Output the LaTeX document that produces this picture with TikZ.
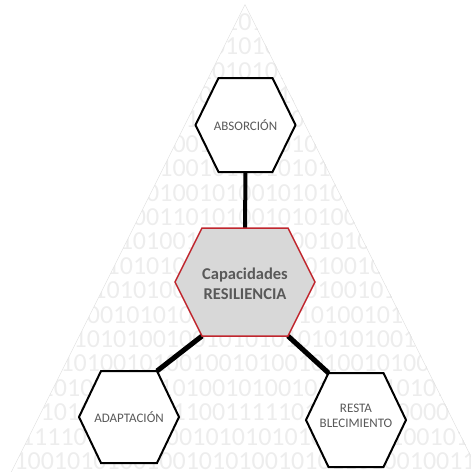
\documentclass[tikz,border=0pt]{standalone}
\usepackage{fontspec}
\setmainfont{Carlito}

\definecolor{hexred}{RGB}{192,38,46}
\definecolor{hexgray}{RGB}{216,216,216}
\definecolor{labelgray}{RGB}{89,89,89}
\definecolor{digitgray}{RGB}{237,237,237}
\definecolor{edgegray}{RGB}{224,224,224}

% named corner points of a flat-topped hexagon:
% #1 name, #2 centre, #3 half width, #4 half top edge, #5 half height
\newcommand\hexpoints[5]{%
  \begin{scope}[shift={#2}]
    \coordinate (#1) at (0,0);
    \coordinate (#1-w) at (-#3,0);
    \coordinate (#1-e) at (#3,0);
    \coordinate (#1-nw) at (-#4,-#5);
    \coordinate (#1-ne) at (#4,-#5);
    \coordinate (#1-sw) at (-#4,#5);
    \coordinate (#1-se) at (#4,#5);
    \coordinate (#1-n) at (0,-#5);
    \coordinate (#1-s) at (0,#5);
  \end{scope}}
\newcommand\hexoutline[2]{%
  \draw[#2] (#1-w) -- (#1-nw) -- (#1-ne) -- (#1-e) -- (#1-se) -- (#1-sw) -- cycle;}

\begin{document}
\begin{tikzpicture}[x=1pt,y=-1pt,
  hexline/.style={draw=black,line width=2pt,fill=white},
  corehex/.style={draw=hexred,line width=1.5pt,fill=hexgray},
  link/.style={draw=black,line width=4.5pt},
  lbl/.style={text=labelgray,font=\fontsize{13}{14.5}\selectfont,align=center,inner sep=0pt},
  corelbl/.style={text=labelgray,font=\bfseries\fontsize{16.5}{20}\selectfont,align=center,inner sep=0pt},
  digits/.style={text=digitgray,font=\fontsize{26}{26}\selectfont,inner sep=0pt,anchor=center}]

\useasboundingbox (0,0) rectangle (471,472);

% binary triangle in the background
\coordinate (apex) at (245,4);
\coordinate (baseL) at (8,478);
\coordinate (baseR) at (482,478);
\begin{scope}
  \clip (apex) -- (baseR) -- (baseL) -- cycle;
  \foreach \row [count=\k from 0] in {
      101,
      01010,
      1010101,
      100101010,
      01010010101,
      1001010100101,
      010010100101011,
      10100101001010101,
      1001101010010101001,
      010100101001010010101,
      01010101001010010100101,
      0101010010101010101001010,
      10010101001010010101001010,
      10101001001010101010101001,
      1010010100100101001010010100,
      1010101001010010100101001010101,
      010100101011100111110101001000001,
      1111010010100101010101010100100101,
      10010101001001010100101011010010011} {
    \node[digits] (row\k) at (245,{22+24.4*\k}) {\row};
  }
  \draw[edgegray,line width=1pt] (apex) -- (baseR) -- (baseL) -- cycle;
\end{scope}

% hexagon geometry
\hexpoints{A}{(245.5,125)}{50}{27}{47}
\hexpoints{C}{(245,282)}{70}{43}{54}
\hexpoints{L}{(129,417)}{50}{28}{46}
\hexpoints{R}{(356,420)}{50}{27.5}{47}

% connectors
\draw[link,line width=4pt] (A-s) -- (C-n);
\draw[link,line width=5pt] (C-sw) -- (L-ne);
\draw[link,line width=5pt] (C-se) -- (R-nw);

% hexagons
\hexoutline{A}{hexline}
\hexoutline{L}{hexline}
\hexoutline{R}{hexline}
\hexoutline{C}{corehex}

% labels
\node[lbl] (absorcion) at (A) {ABSORCIÓN};
\node[corelbl] (core) at (245,284) {Capacidades\\RESILIENCIA};
\node[lbl] (adaptacion) at (L) {ADAPTACIÓN};
\node[lbl] (restablecimiento) at (356,416) {RESTA\\BLECIMIENTO};
\end{tikzpicture}
\end{document}
